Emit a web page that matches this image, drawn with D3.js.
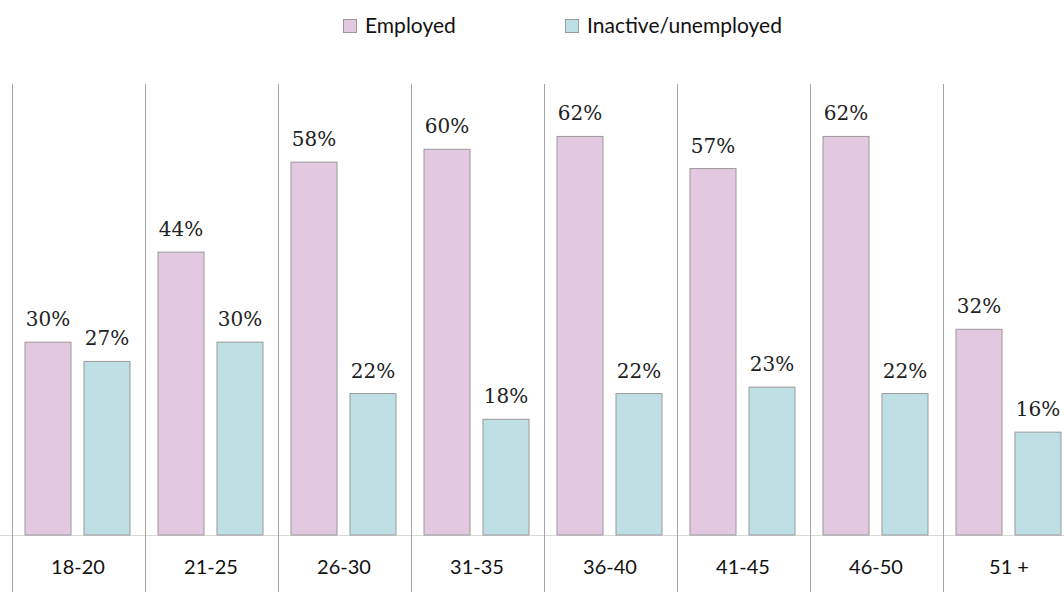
<!DOCTYPE html>
<html><head><meta charset="utf-8">
<script src="https://cdn.jsdelivr.net/npm/d3@7"></script>
<style>body{margin:0;background:#fff}svg{display:block}</style>
</head><body>
<svg id="c" width="1064" height="592"></svg>
<script>
const categories = ["18-20","21-25","26-30","31-35","36-40","41-45","46-50","51 +"];
const seriesNames = ["Employed","Inactive/unemployed"];
const employed = [0.30,0.44,0.58,0.60,0.62,0.57,0.62,0.32];
const inactive = [0.27,0.30,0.22,0.18,0.22,0.23,0.22,0.16];
const colors = ["#E2C9E0","#BEDFE3"];

const svg = d3.select("#c");
const W = 1064, H = 592;
const left = 11.5, step = 133, baseY = 535, topY = 85;

const x0 = d3.scaleBand().domain(categories).range([left, left + step*categories.length]).padding(0);
const x1 = d3.scaleBand().domain(seriesNames).range([13.5, 118.5]).paddingInner(0.22).paddingOuter(0);
const y = d3.scaleLinear().domain([0, 0.7]).range([baseY, topY]);

const data = categories.map((c,i)=>({cat:c, vals:[{s:seriesNames[0],v:employed[i]},{s:seriesNames[1],v:inactive[i]}]}));

// baseline
svg.append("line").attr("x1",0).attr("x2",W).attr("y1",baseY+0.5).attr("y2",baseY+0.5)
  .attr("stroke","#d9d9d9").attr("stroke-width",1);

// separators
const seps = d3.range(categories.length+1).map(i => left + i*step);
svg.selectAll("line.sep").data(seps).join("line").attr("class","sep")
  .attr("x1",d=>Math.round(d)+0.5).attr("x2",d=>Math.round(d)+0.5)
  .attr("y1",84).attr("y2",H).attr("stroke","#a6a6a6").attr("stroke-width",1);

const g = svg.selectAll("g.cat").data(data).join("g").attr("class","cat")
  .attr("transform",d=>`translate(${x0(d.cat)},0)`);

g.selectAll("rect").data(d=>d.vals).join("rect")
  .attr("x",d=>x1(d.s)).attr("width",x1.bandwidth())
  .attr("y",d=>y(d.v)).attr("height",d=>baseY - y(d.v))
  .attr("fill",(d,i)=>colors[i]).attr("stroke","#9a9a9a").attr("stroke-width",1);

g.selectAll("text.val").data(d=>d.vals).join("text").attr("class","val")
  .attr("x",d=>x1(d.s)+x1.bandwidth()/2).attr("y",d=>y(d.v)-16)
  .attr("text-anchor","middle").attr("font-family","DejaVu Serif").attr("font-size",20)
  .attr("font-weight",300).attr("fill","#222").text(d=>Math.round(d.v*100)+"%");

g.append("text").attr("x",step/2).attr("y",574)
  .attr("text-anchor","middle").attr("font-family","Lato").attr("font-size",20)
  .attr("fill","#111").text(d=>d.cat);

// legend
const legX = [343, 565];
const leg = svg.selectAll("g.leg").data(seriesNames).join("g").attr("class","leg")
  .attr("transform",(d,i)=>`translate(${legX[i]},19)`);
leg.append("rect").attr("x",0.5).attr("y",0.5).attr("width",13).attr("height",13)
  .attr("fill",(d,i)=>colors[i]).attr("stroke","#9a9a9a");
leg.append("text").attr("x",22).attr("y",14).attr("font-family","Lato").attr("font-size",21)
  .attr("fill","#111").text(d=>d);
</script>
</body></html>
